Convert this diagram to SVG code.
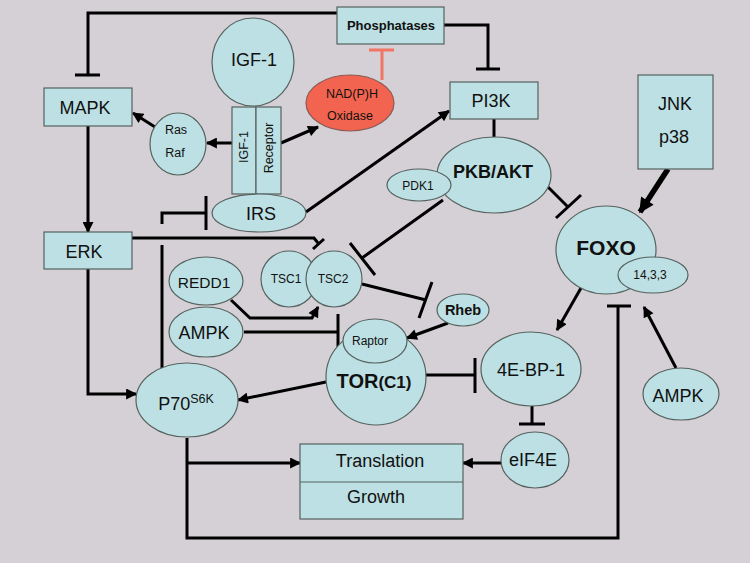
<svg xmlns="http://www.w3.org/2000/svg" width="750" height="563" viewBox="0 0 750 563">
<style>
text{font-family:"Liberation Sans",Arial,sans-serif;fill:#111;text-anchor:middle}
.n{fill:#bce0e3;stroke:#55625f;stroke-width:1.2}
.red{fill:#f2644f;stroke:#8a5a55;stroke-width:1.2}
.c{fill:none;stroke:#000;stroke-width:3}
.a{marker-end:url(#arr)}
.b{font-weight:bold}
</style>
<defs>
<marker id="arr" viewBox="0 0 10 10" refX="9" refY="5" markerWidth="12" markerHeight="11" markerUnits="userSpaceOnUse" orient="auto"><path d="M0,0 L10,5 L0,10 z" fill="#000"/></marker>
<marker id="arrB" viewBox="0 0 10 10" refX="9" refY="5" markerWidth="16" markerHeight="15" markerUnits="userSpaceOnUse" orient="auto"><path d="M0,0 L10,5 L0,10 z" fill="#000"/></marker>
</defs>
<rect width="750" height="563" fill="#d5d0d5"/>

<g id="connectors">
<path class="c" d="M337,13 H88 V75 M75,75 H100"/>
<path class="c" d="M444,25 H488 V69 M476,69 H500"/>
<path d="M382,80 V50 M369,50 H394" fill="none" stroke="#f07565" stroke-width="3"/>
<path class="c a" d="M281,143 L318,127"/>
<path class="c a" d="M232,143 L207,143"/>
<path class="c a" d="M155,127 L133,113"/>
<path class="c a" d="M88,126 V232"/>
<path class="c a" d="M306,212 L449,111"/>
<path class="c" d="M494,119 V137"/>
<path class="c" d="M548,187 L568,207 M556,218 L581,195"/>
<path d="M668,169 L640,212" fill="none" stroke="#000" stroke-width="5.5" marker-end="url(#arrB)"/>
<path class="c a" d="M581,288 L557,330"/>
<path class="c a" d="M676,368 L644,307"/>
<path class="c" d="M187,438 V538 H618 V306 M607,306 H631"/>
<path class="c a" d="M187,463 H300"/>
<path class="c a" d="M501,463 H463"/>
<path class="c" d="M532,406 V424 M519,424 H545"/>
<path class="c" d="M425,375 H475 M475,358 V393"/>
<path class="c a" d="M326,382 L238,400"/>
<path class="c a" d="M88,269 V394 H136"/>
<path class="c" d="M132,238 H314 L318,243 M313,249 L324,239"/>
<path class="c" d="M162,368 V245 M162,224 V213 H206 M206,196 V230"/>
<path class="c a" d="M231,300 L250,318 H312 L318,307"/>
<path class="c" d="M244,332 H338 M338,314 V350"/>
<path class="c" d="M443,200 L362,258 M350,243 L375,275"/>
<path class="c" d="M362,284 L426,300 M432,282 L419,318"/>
<path class="c a" d="M448,323 L407,338"/>
</g>

<g id="phosphatases"><rect class="n" x="337" y="7" width="107" height="37"/><text class="b" x="391" y="30" font-size="13">Phosphatases</text></g>
<g id="mapk"><rect class="n" x="44" y="88" width="88" height="38"/><text x="85" y="114" font-size="18">MAPK</text></g>
<g id="igf1"><ellipse class="n" cx="253" cy="62" rx="41" ry="44"/><text x="254" y="66" font-size="18">IGF-1</text></g>
<g id="igf1-receptor">
<rect class="n" x="232" y="107" width="24" height="87"/>
<rect class="n" x="256" y="107" width="25" height="87"/>
<text transform="translate(248,147) rotate(-90)" font-size="12.5">IGF-1</text>
<text transform="translate(273,148) rotate(-90)" font-size="12.5">Receptor</text>
</g>
<g id="rasraf"><ellipse class="n" cx="178" cy="144" rx="28" ry="31"/><text x="176" y="134" font-size="12.5">Ras</text><text x="175" y="157" font-size="12.5">Raf</text></g>
<g id="nadph"><ellipse class="red" cx="350" cy="103" rx="44" ry="28"/><text x="352" y="98" font-size="12.5">NAD(P)H</text><text x="350" y="120" font-size="12.5">Oxidase</text></g>
<g id="pi3k"><rect class="n" x="450" y="82" width="88" height="37"/><text x="491" y="107" font-size="18">PI3K</text></g>
<g id="jnk"><rect class="n" x="638" y="75" width="75" height="94"/><text x="675" y="110" font-size="18">JNK</text><text x="674" y="143" font-size="18">p38</text></g>
<g id="pkb"><ellipse class="n" cx="494" cy="175" rx="57" ry="38"/><text class="b" x="493" y="178" font-size="18">PKB/AKT</text></g>
<g id="pdk1"><ellipse class="n" cx="419" cy="185" rx="32" ry="16"/><text x="418" y="190" font-size="12">PDK1</text></g>
<g id="irs"><ellipse class="n" cx="259" cy="213" rx="47" ry="19"/><text x="261" y="220" font-size="18">IRS</text></g>
<g id="erk"><rect class="n" x="44" y="232" width="88" height="37"/><text x="84" y="258" font-size="18">ERK</text></g>
<g id="tsc"><circle class="n" cx="289" cy="279" r="28"/><circle class="n" cx="334" cy="279" r="28"/><text x="286" y="283" font-size="12">TSC1</text><text x="333" y="283" font-size="12">TSC2</text></g>
<g id="redd1"><ellipse class="n" cx="206" cy="281" rx="37" ry="24"/><text x="204" y="288" font-size="15.5">REDD1</text></g>
<g id="ampk-left"><ellipse class="n" cx="206" cy="332" rx="37" ry="25"/><text x="204" y="339" font-size="18">AMPK</text></g>
<g id="rheb"><ellipse class="n" cx="463" cy="310" rx="26" ry="16"/><text class="b" x="463" y="315" font-size="14.5">Rheb</text></g>
<g id="tor"><ellipse class="n" cx="376" cy="377" rx="50" ry="48"/><ellipse class="n" cx="375" cy="341" rx="32" ry="22"/><text x="370" y="345" font-size="12">Raptor</text><text class="b" x="374" y="388" font-size="20">TOR<tspan font-size="17">(C1)</tspan></text></g>
<g id="p70"><ellipse class="n" cx="187" cy="400" rx="51" ry="37"/><text x="186" y="410" font-size="18">P70<tspan font-size="12.5" dy="-7">S6K</tspan></text></g>
<g id="translation"><rect class="n" x="300" y="444" width="163" height="75"/><line x1="300" y1="482" x2="463" y2="482" stroke="#55625f" stroke-width="1.2"/><text x="380" y="467" font-size="18">Translation</text><text x="376" y="503" font-size="18">Growth</text></g>
<g id="eif4e"><ellipse class="n" cx="535" cy="460" rx="34" ry="28"/><text x="533" y="466" font-size="18">eIF4E</text></g>
<g id="4ebp1"><ellipse class="n" cx="531" cy="369" rx="50" ry="37"/><text x="531" y="376" font-size="18">4E-BP-1</text></g>
<g id="foxo"><ellipse class="n" cx="606" cy="250" rx="50" ry="44"/><ellipse class="n" cx="653" cy="275" rx="35" ry="18"/><text class="b" x="606" y="255" font-size="21">FOXO</text><text x="650" y="279" font-size="12">14,3,3</text></g>
<g id="ampk-right"><ellipse class="n" cx="681" cy="394" rx="38" ry="26"/><text x="678" y="402" font-size="18">AMPK</text></g>
</svg>
